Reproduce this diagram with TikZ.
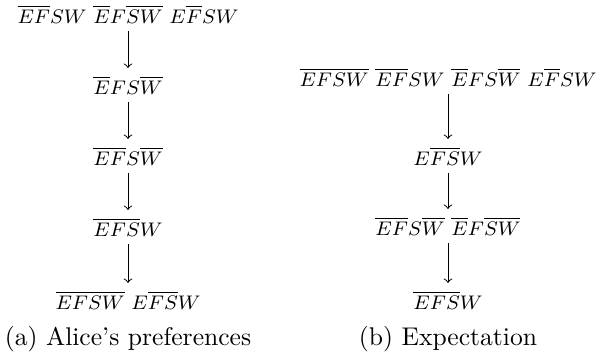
\documentclass[tikz,border=0pt]{standalone}
\begin{document}
\begin{tikzpicture}[x=0.4065pt,y=-0.4065pt,
  st/.style={inner sep=2pt,font=\footnotesize},
  pref/.style={->,shorten >=1pt,shorten <=1pt},
  captext/.style={inner sep=0pt,font=\fontsize{10.4}{12.5}\selectfont}]
\useasboundingbox (0,0) rectangle (596,358);
% (a) Alice's preferences
\node[st] (a1) at (128,14) {$\overline{EF}SW$ $\overline{E}F\overline{SW}$ $E\overline{F}SW$};
\node[st] (a2) at (128,85) {$\overline{E}FS\overline{W}$};
\node[st] (a3) at (128,156) {$\overline{EF}S\overline{W}$};
\node[st] (a4) at (128,227) {$\overline{EFS}W$};
\node[st] (a5) at (128,300) {$\overline{EFSW}$ $E\overline{FS}W$};
\draw[pref] (a1) -- (a2);
\draw[pref] (a2) -- (a3);
\draw[pref] (a3) -- (a4);
\draw[pref] (a4) -- (a5);
\node[captext] (ca) at (128,339) {(a) Alice's preferences};
% (b) Expectation
\node[st] (b1) at (448,77) {$\overline{EFSW}$ $\overline{EF}SW$ $\overline{E}FS\overline{W}$ $E\overline{F}SW$};
\node[st] (b2) at (448,156) {$E\overline{FS}W$};
\node[st] (b3) at (448,226) {$\overline{EF}S\overline{W}$ $\overline{E}F\overline{SW}$};
\node[st] (b4) at (448,300) {$\overline{EFS}W$};
\draw[pref] (b1) -- (b2);
\draw[pref] (b2) -- (b3);
\draw[pref] (b3) -- (b4);
\node[captext] (cb) at (448,339) {(b) Expectation};
\end{tikzpicture}
\end{document}
